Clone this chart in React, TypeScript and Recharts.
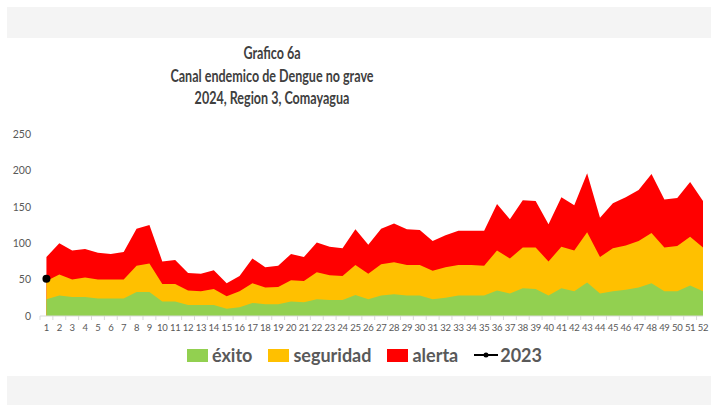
import React from 'react';
import { AreaChart, Area, Line, XAxis, YAxis } from 'recharts';

const weeks = Array.from({ length: 52 }, (_, i) => i + 1);

// upper limit of each zone
const exito = [
  23, 28, 26, 26, 24, 24, 24, 33, 33, 20, 20, 15, 15, 15, 10, 12, 18, 16, 16, 20,
  19, 23, 22, 22, 29, 23, 28, 30, 28, 28, 23, 25, 28, 28, 28, 35, 31, 38, 37, 28,
  38, 34, 46, 31, 34, 36, 39, 45, 34, 34, 42, 34,
];
const seguridad = [
  48, 57, 50, 53, 50, 50, 50, 69, 72, 44, 44, 35, 34, 37, 27, 34, 45, 39, 40, 49,
  48, 60, 56, 55, 70, 58, 71, 74, 70, 70, 62, 67, 70, 70, 69, 90, 79, 94, 94, 75,
  95, 90, 115, 81, 93, 97, 103, 114, 94, 96, 109, 94,
];
const alerta = [
  81, 100, 90, 92, 87, 85, 88, 120, 125, 75, 77, 59, 58, 63, 45, 55, 79, 67, 69, 85,
  81, 101, 95, 93, 119, 98, 120, 127, 119, 118, 103, 111, 117, 117, 117, 154, 133, 159, 158, 126,
  163, 152, 196, 135, 155, 163, 173, 195, 160, 162, 184, 158,
];
const y2023 = [51];

const yTicks = [0, 50, 100, 150, 200, 250];

const data = weeks.map((w, i) => ({
  week: w,
  exito: exito[i],
  seguridad: seguridad[i],
  alerta: alerta[i],
  y2023: y2023[i] ?? null,
}));

const font = 'Lato, "Open Sans", sans-serif';
const GREEN = '#92d050';
const YELLOW = '#ffc000';
const RED = '#ff0000';

const WeekTick = (props: any) => {
  const { x, y, payload } = props;
  const half = 6.43;
  return (
    <g>
      <line x1={x - half} x2={x - half} y1={y - 8} y2={y - 4} stroke="#d9d9d9" />
      <text x={x} y={y + 7} textAnchor="middle" fontSize={9.5} fill="#595959" fontFamily={font} letterSpacing={-0.3}>
        {payload.value}
      </text>
    </g>
  );
};

const legendItems = [
  { label: 'éxito', color: GREEN },
  { label: 'seguridad', color: YELLOW },
  { label: 'alerta', color: RED },
];

export default function App() {
  return (
    <div style={{ position: 'fixed', left: 0, top: 0, width: 711, height: 405, background: '#fff', fontFamily: font }}>
      <div style={{ position: 'absolute', left: 7, top: 7, width: 704, height: 31, background: '#f4f4f4' }} />
      <div style={{ position: 'absolute', left: 7, top: 376, width: 704, height: 29, background: '#f4f4f4' }} />
      <div
        style={{
          position: 'absolute',
          left: 72,
          width: 400,
          top: 42,
          textAlign: 'center',
          color: '#404040',
          fontWeight: 700,
          fontSize: 16.5,
          lineHeight: '22.5px',
          transform: 'scaleX(0.76)',
        }}
      >
        <div>Grafico 6a</div>
        <div>Canal endemico de Dengue no grave</div>
        <div>2024, Region 3, Comayagua</div>
      </div>
      <div style={{ position: 'absolute', left: 0, top: 0 }}>
        <AreaChart
          width={711}
          height={405}
          data={data}
          margin={{ top: 134, right: 8, bottom: 59, left: 10 }}
          style={{ overflow: 'visible' }}
        >
          <XAxis
            dataKey="week"
            type="number"
            domain={[0.5, 52]}
            ticks={weeks}
            interval={0}
            tickSize={0}
            tickMargin={8}
            tick={<WeekTick />}
            axisLine={{ stroke: '#d9d9d9' }}
            height={30}
          />
          <YAxis
            domain={[0, 250]}
            ticks={yTicks}
            width={30}
            axisLine={false}
            tickLine={false}
            tickMargin={3}
            tick={{ fontSize: 10.5, fill: '#595959', fontFamily: font }}
          />
          <Area dataKey="alerta" type="linear" stroke="none" fill={RED} fillOpacity={1} isAnimationActive={false} />
          <Area dataKey="seguridad" type="linear" stroke="none" fill={YELLOW} fillOpacity={1} isAnimationActive={false} />
          <Area dataKey="exito" type="linear" stroke="none" fill={GREEN} fillOpacity={1} isAnimationActive={false} />
          <Line
            dataKey="y2023"
            type="linear"
            stroke="#000"
            strokeWidth={2}
            dot={{ r: 3, fill: '#000', stroke: '#000' }}
            connectNulls={false}
            isAnimationActive={false}
          />
        </AreaChart>
      </div>
      <div
        style={{
          position: 'absolute',
          top: 344,
          left: 187,
          display: 'flex',
          alignItems: 'center',
          fontSize: 18,
          fontWeight: 700,
          color: '#595959',
        }}
      >
        {legendItems.map((it) => (
          <div key={it.label} style={{ display: 'flex', alignItems: 'center', marginRight: 16 }}>
            <span style={{ width: 21, height: 13, background: it.color, marginRight: 4, display: 'inline-block' }} />
            <span>{it.label}</span>
          </div>
        ))}
        <div style={{ display: 'flex', alignItems: 'center' }}>
          <svg width={24} height={14} style={{ marginRight: 2 }}>
            <line x1={0} x2={24} y1={7} y2={7} stroke="#000" strokeWidth={2} />
            <circle cx={12} cy={7} r={2.5} fill="#000" />
          </svg>
          <span>2023</span>
        </div>
      </div>
    </div>
  );
}
